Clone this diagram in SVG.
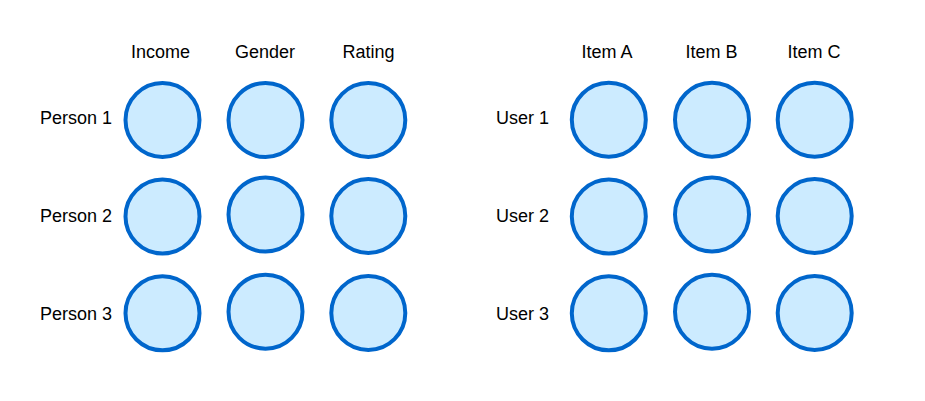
<svg xmlns="http://www.w3.org/2000/svg" width="925" height="401" viewBox="0 0 925 401">
<style>
.n{fill:#CCEBFF;stroke:#0066CC;stroke-width:4}
text{font-family:"Liberation Sans",Arial,sans-serif;font-size:18px;fill:#000}
.h{text-anchor:middle}
.r{text-anchor:end}
</style>
<rect width="925" height="401" fill="#fff"/>
<g id="labels">
<text class="h" x="160.5" y="58">Income</text>
<text class="h" x="265" y="58">Gender</text>
<text class="h" x="368.5" y="58">Rating</text>
<text class="h" x="607" y="58">Item A</text>
<text class="h" x="711.5" y="58">Item B</text>
<text class="h" x="814" y="58">Item C</text>
<text class="r" x="112" y="124">Person 1</text>
<text class="r" x="112" y="222">Person 2</text>
<text class="r" x="112" y="320">Person 3</text>
<text class="r" x="549" y="124">User 1</text>
<text class="r" x="549" y="222">User 2</text>
<text class="r" x="549" y="320">User 3</text>
</g>
<g id="p1-income"><circle class="n" cx="162.5" cy="120" r="37"/></g>
<g id="p1-gender"><circle class="n" cx="265.5" cy="120" r="37"/></g>
<g id="p1-rating"><circle class="n" cx="368.3" cy="120" r="37"/></g>
<g id="p2-income"><circle class="n" cx="162.5" cy="216.5" r="37"/></g>
<g id="p2-gender"><circle class="n" cx="265.5" cy="214.5" r="37"/></g>
<g id="p2-rating"><circle class="n" cx="368.3" cy="216" r="37"/></g>
<g id="p3-income"><circle class="n" cx="162.5" cy="313.3" r="37"/></g>
<g id="p3-gender"><circle class="n" cx="265.5" cy="311.7" r="37"/></g>
<g id="p3-rating"><circle class="n" cx="368.3" cy="313" r="37"/></g>
<g id="u1-a"><circle class="n" cx="608.8" cy="119.7" r="37"/></g>
<g id="u1-b"><circle class="n" cx="712" cy="119.7" r="37"/></g>
<g id="u1-c"><circle class="n" cx="814.7" cy="119.7" r="37"/></g>
<g id="u2-a"><circle class="n" cx="608.8" cy="216.5" r="37"/></g>
<g id="u2-b"><circle class="n" cx="712" cy="214.5" r="37"/></g>
<g id="u2-c"><circle class="n" cx="814.7" cy="216" r="37"/></g>
<g id="u3-a"><circle class="n" cx="608.8" cy="313.3" r="37"/></g>
<g id="u3-b"><circle class="n" cx="712" cy="311.7" r="37"/></g>
<g id="u3-c"><circle class="n" cx="814.7" cy="313" r="37"/></g>
<g id="connectors"></g>
</svg>
